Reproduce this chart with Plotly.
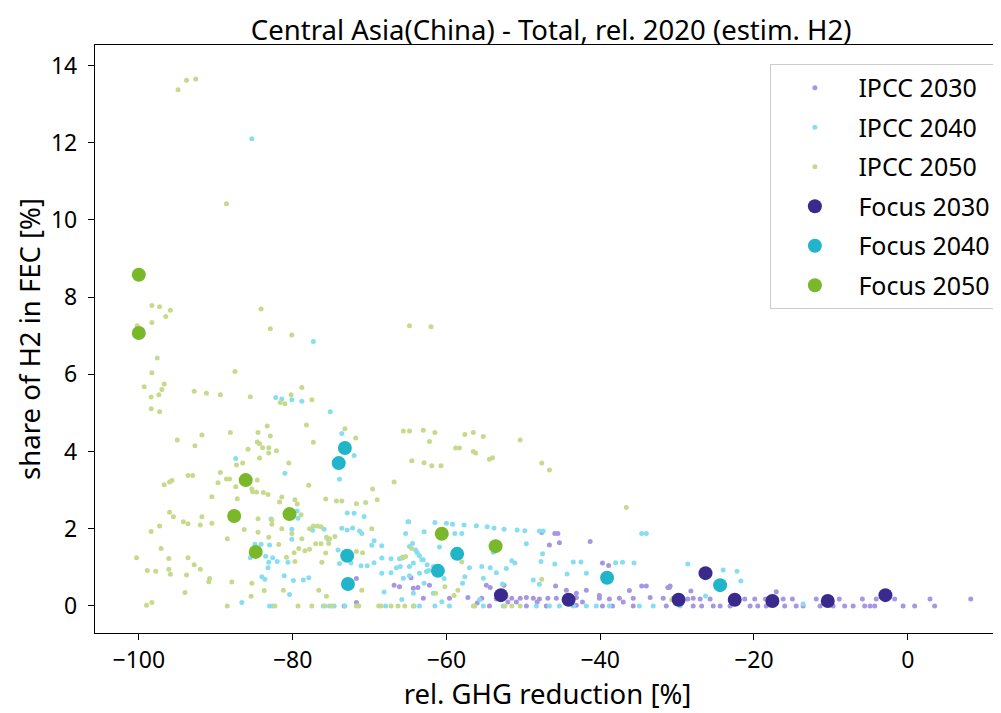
import plotly.graph_objects as go

# ---------------- data ----------------
ipcc2030_x = [-71.7, -73.3, -71.7, -66.8, -66.1, -64.6, -64.3, -63.7,
              -45.9, -45.5, -47.6, -46.6, -45.3, -41.3, -39.7, -38.9, -62.2, -54.8, -52.5, -45.8,
              -44.4, -43.1, -41.8, -40.1, -34.6, -34.0, -36.2, -31.0, -28.2, -54.3,
              -63.0, -59.6, -57.2, -55.4, -53.5, -51.5, -50.4, -49.6, -48.7, -47.9, -46.8, -45.7,
              -43.1, -40.1, -38.8, -37.5, -35.7, -33.5, -31.8, -30.5, -27.9,
              -54.4, -49.6, -47.0, -43.1, -39.7, -38.4, -35.7, -31.4, -27.9,
              -28.6, -27.0, -25.7, -21.2, -19.9, -18.5, -17.1, -16.2, -15.0, -11.9, -8.9, -5.9,
              -4.1, -1.7, 2.9, 8.2,
              -26.8, -25.3, -24.4, -23.1, -20.5, -19.5, -18.4, -16.0, -14.5, -13.6, -11.4, -9.7,
              -8.2, -7.1, -5.6, -4.9, -4.3, -0.6, 0.9, 3.5,
              -17.1, -31.2, -30.9, -52.0, -48.2, -44.2, -42.3, -37.0, -56.0, -50.9]
ipcc2030_y = [0.71, 0.00, 0.09, 0.54, 0.50, 0.73, 0.46, 0.48,
              1.88, 1.88, 1.90, 1.58, 1.64, 1.67, 1.11, 1.05, 0.54, 0.54, 0.54, 0.52,
              0.41, 0.33, 0.41, 0.27, 0.52, 0.52, 0.40, 0.48, 0.39, 0.48,
              0.20, 0.20, 0.22, 0.20, 0.18, 0.20, 0.20, 0.22, 0.20, 0.18, 0.20, 0.20,
              0.22, 0.20, 0.18, 0.20, 0.20, 0.22, 0.20, 0.20, 0.20,
              0.00, 0.00, 0.00, 0.02, 0.00, 0.00, 0.00, 0.00, 0.00,
              0.18, 0.18, 0.18, 0.18, 0.18, 0.18, 0.18, 0.18, 0.18, 0.18, 0.18, 0.18,
              0.18, 0.18, 0.18, 0.18,
              0.00, 0.00, 0.00, 0.00, 0.00, 0.00, 0.00, 0.00, 0.00, 0.00, 0.00, 0.00,
              0.00, 0.00, 0.00, 0.00, 0.00, 0.00, 0.00, 0.00,
              0.37, 0.48, 0.52, 0.10, 0.10, 0.12, 0.10, 0.10, 0.08, 0.10]

ipcc2040_x = [-85.3, -77.3, -82.2, -81.4, -80.1, -78.8, -75.1, -73.6, -72.0, -87.4, -81.0, -73.9,
              -86.6, -82.8, -79.4, -79.3, -80.1, -80.1, -77.4, -75.9, -75.4, -73.6, -72.9, -72.2,
              -71.3, -71.0, -72.9, -70.7, -72.0, -69.4, -69.7, -68.4, -65.0, -65.3, -84.9, -84.1,
              -85.5, -83.5, -82.6, -83.1, -83.2, -83.0, -82.0, -80.6, -84.0, -83.6, -81.1, -79.9,
              -78.6, -77.9, -80.4, -74.1, -73.9, -72.4, -71.1, -70.3, -69.4, -68.4, -67.2, -66.1,
              -68.4, -67.2, -66.5, -66.0, -65.6, -64.8, -64.8, -64.3, -64.8, -64.0, -63.5, -63.2,
              -64.4, -63.8, -65.8, -68.1, -64.3,
              -83.0, -82.6, -76.0, -75.2, -74.6, -73.2, -67.9, -64.2,
              -64.9, -62.9, -61.5, -60.0, -59.2, -58.9, -58.0, -57.7, -56.1, -54.7, -53.8, -52.5,
              -50.8, -49.8, -47.9, -47.4, -34.6, -34.0, -28.6, -49.6, -47.5, -60.9, -63.0, -65.7,
              -53.9, -57.0, -55.4, -54.3, -53.5, -52.2, -51.5, -51.1, -61.7, -62.6, -63.5, -60.3,
              -57.9, -57.6, -55.2, -48.7, -47.9, -45.9, -43.5, -42.5, -44.3, -41.8, -38.0, -37.1,
              -35.6, -62.9, -61.7, -60.6, -55.7, -47.7, -52.7, -62.5, -62.3,
              -63.5, -61.5, -59.6, -55.2, -52.6, -48.3, -46.6, -45.3, -43.5, -41.8, -38.8, -34.9,
              -33.1, -40.5, -29.6,
              -24.0, -22.2, -21.7, -26.3, -13.6]
ipcc2040_y = [12.10, 6.85, 5.40, 5.36, 5.34, 5.30, 5.03, 4.47, 3.90, 3.82, 3.44, 3.28,
              0.09, 2.25, 2.46, 2.27, 1.99, 1.73, 1.96, 1.99, 1.73, 2.01, 1.97, 2.02,
              1.94, 1.88, 2.41, 2.32, 2.40, 1.69, 1.57, 1.56, 2.18, 1.88, 1.60, 1.60,
              1.25, 1.29, 1.25, 1.13, 0.99, 1.58, 1.15, 1.13, 0.76, 0.69, 0.78, 0.66,
              0.67, 0.73, 0.30, 1.45, 1.10, 1.11, 1.04, 1.04, 1.12, 1.24, 1.22, 1.22,
              0.85, 0.86, 0.99, 1.02, 0.72, 0.78, 1.02, 1.11, 1.54, 1.45, 1.30, 1.20,
              1.62, 1.38, 0.17, 0.36, 0.33,
              0.00, 0.00, 0.00, 0.00, 0.00, 0.00, 0.00, 0.00,
              2.18, 1.92, 2.16, 2.14, 2.12, 1.88, 1.88, 2.10, 2.08, 2.05, 2.02, 1.99,
              1.97, 1.95, 1.94, 1.94, 1.88, 1.88, 1.09, 1.61, 1.35, 1.53, 1.20, 1.24,
              1.39, 0.99, 1.02, 0.99, 0.86, 0.97, 1.17, 1.11, 1.02, 0.89, 0.85, 0.71,
              0.59, 0.76, 0.72, 0.67, 0.56, 1.09, 1.14, 1.14, 0.83, 0.85, 1.12, 1.13,
              1.11, 0.59, 0.33, 0.11, 0.16, 1.15, 0.57, 1.07, 0.92,
              0.00, 0.00, 0.00, 0.00, 0.00, 0.00, 0.00, 0.00, 0.00, 0.00, 0.00, 0.00,
              0.00, 0.00, 0.00,
              0.93, 0.90, 0.65, 0.26, 0.05]

ipcc2050_x = [-94.9, -93.8, -92.6, -88.6,
              -98.3, -97.3, -95.9, -96.5, -98.3, -100.2, -84.1, -82.9, -80.1, -64.8, -62.0,
              -97.6, -98.3, -99.3, -96.7, -87.5, -78.8,
              -97.0, -97.4, -98.4, -98.4, -97.3, -92.8, -91.2, -89.4, -85.5, -80.2, -81.6, -81.0, -77.5,
              -78.2, -77.3, -73.2, -71.8, -65.6, -64.8, -64.5, -66.8,
              -95.0, -91.8, -92.7, -88.1, -84.5, -83.3, -84.6, -84.3, -83.9, -83.1, -82.9, -85.8,
              -82.1, -83.1, -84.3, -87.3, -86.5, -80.5,
              -93.6, -93.0, -96.7, -96.0, -95.7, -89.4, -89.7, -88.6, -88.2, -87.4, -84.6, -85.3,
              -85.2, -84.7, -83.8, -83.2, -77.9, -90.5, -87.2, -81.7, -81.4, -79.7, -79.4, -75.7,
              -74.3, -73.6, -71.7, -70.5, -69.6, -69.0,
              -96.0, -95.5, -98.4, -97.3, -94.2, -93.6, -91.8, -92.0, -90.5, -88.5, -86.3, -84.5,
              -84.5, -83.1, -82.7, -82.7, -81.4, -81.8, -80.1, -78.8, -78.9, -77.8, -77.3, -76.8,
              -76.3, -77.0, -76.3, -75.6, -75.2, -75.3, -74.5, -75.7, -77.8, -78.4, -79.2, -79.8,
              -80.8, -79.7, -76.2, -69.7, -73.3, -71.7, -70.9, -65.3,
              -100.3, -97.1, -96.1, -98.9, -97.8, -96.1, -95.9, -93.6, -92.8, -93.8, -92.0, -90.8,
              -90.9, -87.9, -85.3, -94.0, -85.4, -83.7, -81.2, -76.6, -71.0, -99.0, -98.3, -88.5,
              -82.3, -79.3, -77.5, -75.8, -74.9, -71.7, -71.4, -68.8, -68.5, -67.2, -66.3, -65.4,
              -75.6,
              -63.0, -61.5, -62.2, -62.9, -61.9, -60.7, -58.8, -58.3, -57.6, -56.5, -55.2, -56.5,
              -56.2, -54.4, -54.0, -50.4, -47.6, -46.6, -36.6, -64.5, -65.7, -58.0, -61.4, -60.2,
              -59.0, -58.5, -47.6, -52.2, -64.3, -56.5, -56.3, -52.4, -51.5, -50.4, -30.7]
ipcc2050_y = [13.37, 13.62, 13.65, 10.42,
              7.78, 7.75, 7.66, 7.50, 7.34, 7.26, 7.69, 7.18, 7.02, 7.26, 7.23,
              6.42, 6.04, 5.68, 5.75, 6.07, 5.66,
              5.61, 5.47, 5.41, 5.11, 5.03, 5.56, 5.51, 5.47, 5.42, 5.47, 5.27, 5.24, 5.34,
              4.69, 4.24, 4.59, 4.35, 4.53, 4.53, 3.76, 3.21,
              4.30, 4.43, 4.15, 4.49, 4.49, 4.66, 4.25, 4.20, 4.10, 4.10, 4.40, 4.06,
              4.02, 3.96, 3.83, 3.65, 3.70, 3.70,
              3.38, 3.38, 3.14, 3.21, 3.25, 3.46, 3.19, 3.29, 3.29, 3.09, 3.26, 3.03,
              2.96, 2.95, 2.94, 2.89, 3.13, 2.83, 2.78, 2.69, 2.82, 2.75, 2.64, 2.77,
              2.72, 2.72, 2.65, 2.68, 3.03, 2.75,
              2.43, 2.31, 1.93, 2.07, 2.18, 2.13, 2.31, 2.10, 2.14, 1.74, 1.98, 2.26,
              1.91, 1.78, 2.23, 2.12, 2.00, 1.59, 1.88, 1.74, 2.36, 2.00, 2.07, 2.07,
              2.05, 1.61, 1.61, 1.78, 1.74, 1.62, 1.80, 1.37, 1.47, 1.43, 1.49, 1.38,
              1.26, 1.15, 1.13, 2.00, 1.34, 1.41, 1.38, 1.28,
              1.25, 1.49, 1.23, 0.92, 0.90, 0.95, 0.82, 1.25, 1.07, 0.80, 0.95, 0.71,
              0.63, 0.62, 0.59, 0.35, 0.25, 0.40, 0.41, 0.41, 0.41, 0.02, 0.09, 0.00,
              0.00, 0.00, 0.00, 0.00, 0.00, 0.00, 0.00, 0.00, 0.00, 0.00, 0.00, 0.00,
              0.25,
              4.55, 4.49, 4.26, 3.71, 3.63, 3.63, 4.09, 4.09, 4.44, 4.49, 4.39, 4.00,
              3.96, 3.80, 3.84, 4.30, 3.70, 3.52, 2.55, 1.49, 1.27, 1.14, 0.33, 0.50,
              0.27, 0.41, 0.69, 0.24, 0.00, 0.00, 0.00, 0.00, 0.00, 0.00, 0.16]

focus2030_x = [-52.9, -44.1, -29.8, -26.3, -22.5, -17.6, -10.4, -2.9]
focus2030_y = [0.28, 0.16, 0.16, 0.85, 0.16, 0.13, 0.13, 0.28]
focus2040_x = [-73.2, -74.0, -72.9, -72.8, -61.1, -58.6, -39.1, -24.4]
focus2040_y = [4.09, 3.70, 1.30, 0.57, 0.91, 1.35, 0.73, 0.54]
focus2050_x = [-100.0, -100.0, -86.1, -87.6, -80.4, -84.8, -60.6, -53.6]
focus2050_y = [8.58, 7.07, 3.26, 2.33, 2.38, 1.40, 1.87, 1.55]

x_ticks = [-100, -80, -60, -40, -20, 0]
y_ticks = [0, 2, 4, 6, 8, 10, 12, 14]

# ---------------- figure ----------------
FONT = "Noto Sans"
fig = go.Figure()

small = [
    ("IPCC 2030", ipcc2030_x, ipcc2030_y, "#a797e2"),
    ("IPCC 2040", ipcc2040_x, ipcc2040_y, "#87def0"),
    ("IPCC 2050", ipcc2050_x, ipcc2050_y, "#c6da8c"),
]
for name, xs, ys, col in small:
    fig.add_trace(go.Scatter(x=xs, y=ys, mode="markers", name=name,
                             legendgroup=name,
                             marker=dict(size=5, color=col, line=dict(width=0))))

big = [
    ("Focus 2030", focus2030_x, focus2030_y, "#3b2a8e"),
    ("Focus 2040", focus2040_x, focus2040_y, "#20b5c8"),
    ("Focus 2050", focus2050_x, focus2050_y, "#79b82a"),
]
for name, xs, ys, col in big:
    fig.add_trace(go.Scatter(x=xs, y=ys, mode="markers", name=name,
                             legendgroup=name,
                             marker=dict(size=14, color=col, line=dict(width=0))))

axis_common = dict(showline=True, linecolor="black", linewidth=1.3, mirror=True,
                   ticks="outside", ticklen=6, tickwidth=1.3, tickcolor="black",
                   showgrid=False, zeroline=False,
                   tickfont=dict(family=FONT, size=23, color="black"))

W, H = 993, 705
fig.update_layout(
    width=W, height=H,
    margin=dict(l=87, r=1, t=37, b=80),
    paper_bgcolor="white", plot_bgcolor="white",
    font=dict(family=FONT, size=23, color="black"),
    title=dict(text="Central Asia(China) - Total, rel. 2020 (estim. H2)",
               x=0.547, xanchor="center", y=1 - 22 / H, yanchor="middle",
               font=dict(family=FONT, size=27.5, color="black")),
    xaxis=dict(range=[-105.7, 12.0], tickvals=x_ticks,
               title=dict(text="rel. GHG reduction [%]", standoff=2,
                          font=dict(family=FONT, size=27.5)),
               **axis_common),
    yaxis=dict(range=[-0.70, 14.53], tickvals=y_ticks, ticklabelstandoff=6,
               title=dict(text="share of H2 in FEC [%]", standoff=2,
                          font=dict(family=FONT, size=27.5)),
               **axis_common),
    legend=dict(x=0.996, xanchor="right", y=0.9677, yanchor="top",
                bgcolor="rgba(255,255,255,0.85)", bordercolor="#cccccc", borderwidth=1,
                font=dict(family=FONT, size=25, color="black"),
                tracegroupgap=4, itemwidth=77),
)

fig.write_html("out.html")
